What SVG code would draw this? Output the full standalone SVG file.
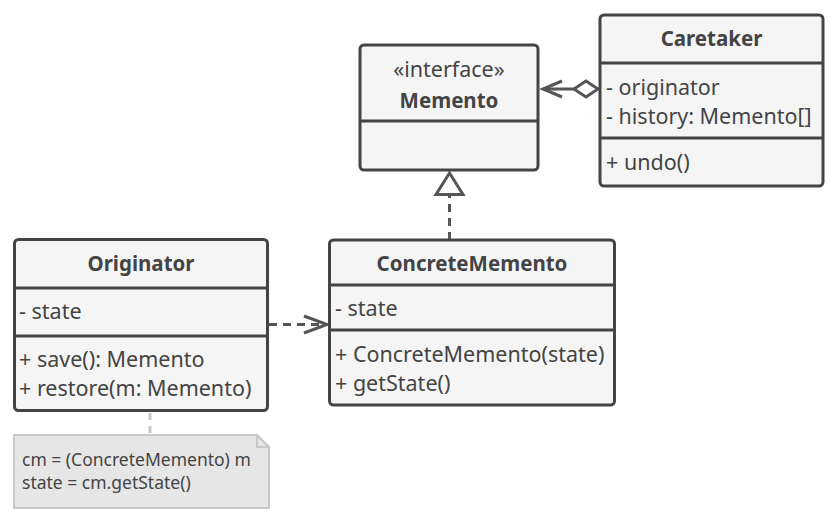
<svg xmlns="http://www.w3.org/2000/svg" width="840" height="525" viewBox="0 0 840 525">
<style>
.box{fill:#f5f5f5;stroke:#444;stroke-width:3}
.div{stroke:#444;stroke-width:3;fill:none}
.t{font-family:"Noto Sans","Open Sans",sans-serif;font-size:21.5px;fill:#444}
.b{font-weight:bold;text-anchor:middle;font-size:20.5px}
.c{text-anchor:middle}
.ln{stroke:#555;stroke-width:3;fill:none}
.dash{stroke-dasharray:8,6}
.note{fill:#e6e6e6;stroke:#c8c8c8;stroke-width:2}
.nt{font-family:"Noto Sans","Open Sans",sans-serif;font-size:17.5px;fill:#444}
</style>
<rect width="840" height="525" fill="#ffffff"/>
<g id="connectors">
<line class="ln" x1="598" y1="89" x2="543" y2="89"/>
<polyline class="ln" points="562,81 543,89 562,97"/>
<polygon points="574,89 586,81 598,89 586,97" fill="#fff" stroke="#555" stroke-width="3"/>
<line class="ln dash" x1="449.5" y1="240" x2="449.5" y2="196"/>
<polygon points="449.5,173 436,194.5 463,194.5" fill="#fff" stroke="#555" stroke-width="3"/>
<line class="ln dash" x1="269" y1="324.5" x2="326" y2="324.5"/>
<polyline class="ln" points="304,316 327,324.5 304,333"/>
<line x1="150" y1="413" x2="150" y2="435" stroke="#c8c8c8" stroke-width="3" stroke-dasharray="7,6"/>
</g>
<g id="memento">
<rect class="box" x="360" y="45" width="178" height="125" rx="4"/>
<line class="div" x1="360" y1="121" x2="538" y2="121"/>
<text class="t c" x="449" y="77">«interface»</text>
<text class="t b" x="449" y="108">Memento</text>
</g>
<g id="caretaker">
<rect class="box" x="600" y="15" width="223" height="171" rx="4"/>
<line class="div" x1="600" y1="63" x2="823" y2="63"/>
<line class="div" x1="600" y1="138" x2="823" y2="138"/>
<text class="t b" x="711.5" y="46">Caretaker</text>
<text class="t" x="606" y="95">- originator</text>
<text class="t" x="606" y="124">- history: Memento[]</text>
<text class="t" x="606" y="170">+ undo()</text>
</g>
<g id="originator">
<rect class="box" x="14.5" y="239.5" width="253" height="171" rx="4"/>
<line class="div" x1="14.5" y1="288" x2="267.5" y2="288"/>
<line class="div" x1="14.5" y1="336" x2="267.5" y2="336"/>
<text class="t b" x="141" y="271">Originator</text>
<text class="t" x="19" y="319">- state</text>
<text class="t" x="19" y="367">+ save(): Memento</text>
<text class="t" x="19" y="396">+ restore(m: Memento)</text>
</g>
<g id="concretememento">
<rect class="box" x="329.5" y="240" width="285" height="165" rx="4"/>
<line class="div" x1="329.5" y1="285" x2="614.5" y2="285"/>
<line class="div" x1="329.5" y1="330" x2="614.5" y2="330"/>
<text class="t b" x="472" y="271">ConcreteMemento</text>
<text class="t" x="335" y="316">- state</text>
<text class="t" x="335" y="362">+ ConcreteMemento(state)</text>
<text class="t" x="335" y="391">+ getState()</text>
</g>
<g id="note">
<path class="note" d="M14,435 H257 L269,447 V508 H14 Z"/>
<path d="M257,435 V447 H269" fill="none" stroke="#c8c8c8" stroke-width="2"/>
<text class="nt" x="22" y="466">cm = (ConcreteMemento) m</text>
<text class="nt" x="22" y="489">state = cm.getState()</text>
</g>
</svg>
